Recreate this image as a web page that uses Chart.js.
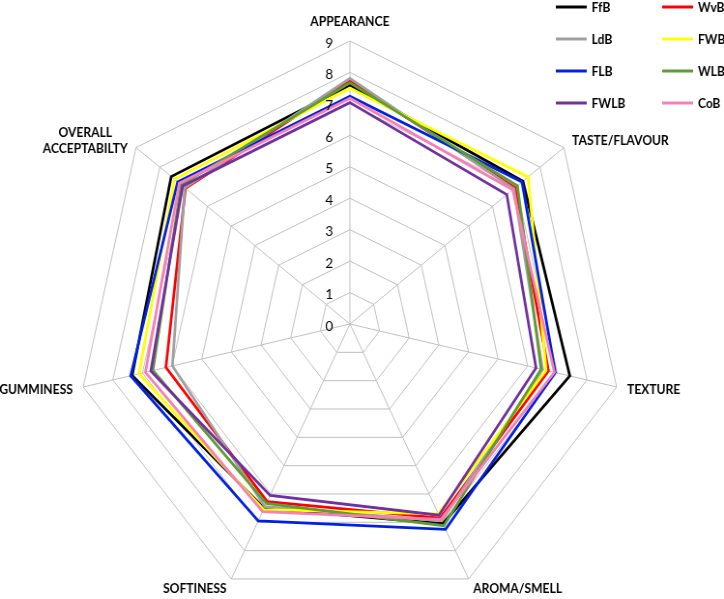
<!DOCTYPE html>
<html lang="en">
<head>
<meta charset="UTF-8">
<title>Sensory scores radar</title>
<script src="https://cdn.jsdelivr.net/npm/chart.js"></script>
<style>
  html, body { margin: 0; padding: 0; background: #fff; overflow: hidden; }
  #radar { display: block; }
</style>
</head>
<body>
<!-- canvas is drawn 749 wide and shown at 724, the reference is squeezed horizontally -->
<canvas id="radar" width="749" height="610" style="width:724px;height:610px"></canvas>
<script>
const attributes = ['APPEARANCE', 'TASTE/FLAVOUR', 'TEXTURE', 'AROMA/SMELL', 'SOFTINESS', 'GUMMINESS', ['OVERALL', 'ACCEPTABILTY']];
const seriesNames = ['FfB', 'WvB', 'LdB', 'FWB', 'FLB', 'WLB', 'FWLB', 'CoB'];
const seriesColors = ['#000000', '#ff0000', '#a0a0a0', '#ffff00', '#0022e0', '#5e9c35', '#7030a0', '#f77fb3'];

const FfB  = [7.60, 7.28, 7.42, 7.05, 6.50, 7.35, 7.52];
const WvB  = [7.73, 6.95, 6.70, 6.85, 6.27, 6.21, 6.92];
const LdB  = [7.81, 6.90, 6.50, 6.95, 6.45, 5.99, 6.95];
const FWB  = [7.50, 7.50, 6.62, 6.70, 6.55, 7.12, 7.38];
const FLB  = [7.24, 7.24, 6.93, 7.25, 6.95, 7.40, 7.25];
const WLB  = [7.67, 7.05, 6.45, 7.12, 6.33, 6.65, 7.10];
const FWLB = [7.04, 6.60, 6.28, 6.75, 6.05, 6.72, 7.04];
const CoB  = [7.18, 6.85, 6.90, 6.90, 6.62, 6.90, 7.18];
const seriesValues = [FfB, WvB, LdB, FWB, FLB, WLB, FWLB, CoB];

const tickValues = [0, 1, 2, 3, 4, 5, 6, 7, 8, 9];

// labels, tick numbers and legend drawn like the Excel original
const excelText = {
    id: 'excelText',
    afterDraw(chart) {
        const ctx = chart.ctx;
        const r = chart.scales.r;
        const R = r.drawingArea;
        ctx.save();
        ctx.fillStyle = '#000';

        // axis titles
        ctx.font = 'bold 12.5px Lato';
        ctx.textBaseline = 'alphabetic';
        ctx.textAlign = 'center';
        const lh = 16.5;
        attributes.forEach((lab, i) => {
            const p = r.getPointPosition(i, R + 11);
            const lines = Array.isArray(lab) ? lab : [lab];
            const maxW = Math.max(...lines.map(t => ctx.measureText(t).width));
            let y = p.y - (lines.length - 1) * lh / 2;
            if (i === 0) y -= 9;
            let cx = p.x;
            if (p.x > r.xCenter + 2) cx = p.x + maxW / 2;
            else if (p.x < r.xCenter - 2) cx = p.x - maxW / 2;
            lines.forEach((t, k) => ctx.fillText(t, cx, y + k * lh + 4.5));
        });

        // tick numbers, left of the vertical axis
        ctx.font = '14px Lato';
        ctx.textAlign = 'right';
        tickValues.forEach(v => {
            const y = r.yCenter - r.getDistanceFromCenterForValue(v);
            ctx.fillText(String(v), r.xCenter - 17.5, y + 6.5);
        });

        // legend, two columns
        const colX = [575, 685];
        const rowY = [7, 39, 71, 103];
        ctx.font = 'bold 12.5px Lato';
        ctx.textAlign = 'left';
        seriesNames.forEach((name, i) => {
            const x = colX[i % 2];
            const y = rowY[Math.floor(i / 2)];
            ctx.strokeStyle = seriesColors[i];
            ctx.lineWidth = 3;
            ctx.beginPath();
            ctx.moveTo(x, y);
            ctx.lineTo(x + 32, y);
            ctx.stroke();
            ctx.fillText(name, x + 37, y + 4.5);
        });
        ctx.restore();
    }
};

const datasets = seriesNames.map((name, i) => ({
    label: name,
    data: seriesValues[i],
    borderColor: seriesColors[i],
    backgroundColor: seriesColors[i],
    borderWidth: 2.75,
    pointRadius: 0,
    fill: false,
    order: seriesNames.length - i
}));

new Chart(document.getElementById('radar'), {
    type: 'radar',
    data: { labels: attributes, datasets: datasets },
    options: {
        responsive: false,
        animation: false,
        layout: { padding: { left: 79, right: 104, top: 41, bottom: 3 } },
        plugins: {
            legend: { display: false },
            tooltip: { enabled: false }
        },
        scales: {
            r: {
                min: 0,
                max: 9,
                ticks: { stepSize: 1, display: false },
                grid: { color: '#bfbfbf', lineWidth: 1 },
                angleLines: { color: '#bfbfbf', lineWidth: 1 },
                pointLabels: { display: false }
            }
        }
    },
    plugins: [excelText]
});
</script>
</body>
</html>
